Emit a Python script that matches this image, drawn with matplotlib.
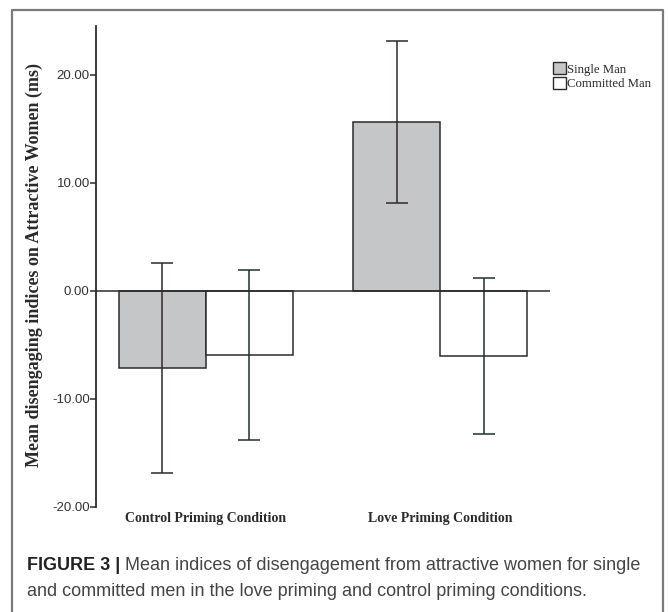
import matplotlib
matplotlib.use("Agg")
import matplotlib.pyplot as plt
import numpy as np
from matplotlib.patches import Patch

# data
conditions = ["Control Priming Condition", "Love Priming Condition"]
groups = ["Single Man", "Committed Man"]
single_mean = [-7.17, 15.59]
single_err = [9.7, 7.5]
committed_mean = [-5.98, -6.05]
committed_err = [7.85, 7.2]
yticks = [-20, -10, 0, 10, 20]

W, H = 668, 612
fig = plt.figure(figsize=(W / 100, H / 100), dpi=100)

# axes placement in pixels (from the reference)
ax_l, ax_r = 96, 549.5
ax_t, ax_b = 26, 506.6
ax = fig.add_axes([ax_l / W, 1 - ax_b / H, (ax_r - ax_l) / W, (ax_b - ax_t) / H])

dark = "#2b2b2b"
gray_fill = "#c5c6c8"
x = np.arange(len(conditions))
width = 0.371

ax.bar(x - width / 2, single_mean, width, color=gray_fill, edgecolor=dark,
       linewidth=1.1, zorder=2)
ax.bar(x + width / 2, committed_mean, width, color="white", edgecolor=dark,
       linewidth=1.1, zorder=2)
ax.errorbar(x - width / 2, single_mean, yerr=single_err, fmt="none",
            ecolor="#332828", elinewidth=1.1, capsize=7.8, capthick=1.1, zorder=3)
ax.errorbar(x + width / 2, committed_mean, yerr=committed_err, fmt="none",
            ecolor="#233030", elinewidth=1.1, capsize=7.8, capthick=1.1, zorder=3)
ax.axhline(0, color=dark, linewidth=1.1, zorder=4)

ax.set_xlim(-0.4676, 1.467)
ax.set_ylim(-20, 24.5)

for side in ["top", "right", "bottom"]:
    ax.spines[side].set_visible(False)
ax.spines["left"].set_color(dark)
ax.spines["left"].set_linewidth(1.3)

ax.set_yticks(yticks)
ax.set_yticklabels([f"{v:.2f}" for v in yticks], fontfamily="Liberation Sans",
                   fontsize=9.5, color="#333333")
ax.tick_params(axis="y", length=4.5, width=1.1, color=dark, pad=0)
ax.set_xticks(x)
ax.set_xticklabels(conditions, fontfamily="Liberation Serif", fontweight="bold",
                   fontsize=10, color="#2a2a2a")
ax.tick_params(axis="x", length=0, pad=4)

ax.set_ylabel("Mean disengaging indices on Attractive Women (ms)",
              fontfamily="Liberation Serif", fontweight="bold", fontsize=13,
              color="#2a2a2a")
ax.yaxis.label.set_va("center")
ax.yaxis.set_label_coords((34 - ax_l) / (ax_r - ax_l), (ax_b - 265) / (ax_b - ax_t))

# legend
handles = [Patch(facecolor=gray_fill, edgecolor=dark, linewidth=1.0),
           Patch(facecolor="white", edgecolor=dark, linewidth=1.0)]
fig.legend(handles, groups, loc="upper left",
           bbox_to_anchor=(547 / W, 1 - 56 / H), frameon=False,
           prop={"family": "Liberation Serif", "size": 9.2},
           handlelength=0.95, handleheight=1.05, handletextpad=0.15,
           labelspacing=0.12, borderpad=0, labelcolor="#2a2a2a")

# outer frame (open at the bottom)
fig.add_artist(plt.Line2D([12 / W, 12 / W, 663 / W, 663 / W],
                          [0, 1 - 10 / H, 1 - 10 / H, 0],
                          transform=fig.transFigure, color="#7a7a7a", linewidth=1.6))

# caption
renderer = fig.canvas.get_renderer()
cap_x = 27 / W
t1 = fig.text(cap_x, 1 - 566 / H, "FIGURE 3 |", fontfamily="Liberation Sans",
              fontweight="bold", fontsize=13, color="#222222", va="center")
bb = t1.get_window_extent(renderer)
fig.text(bb.x1 / W + 5 / W, 1 - 566 / H,
         "Mean indices of disengagement from attractive women for single",
         fontfamily="Liberation Sans", fontsize=13, color="#444444", va="center")
fig.text(cap_x, 1 - 592 / H,
         "and committed men in the love priming and control priming conditions.",
         fontfamily="Liberation Sans", fontsize=13, color="#444444", va="center")

fig.savefig("out.png", dpi=100)
